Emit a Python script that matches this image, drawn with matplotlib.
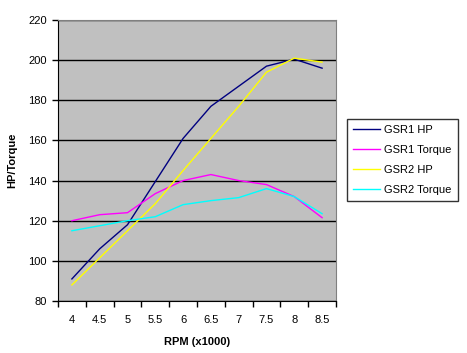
import numpy as np
import matplotlib
matplotlib.use("Agg")
import matplotlib.pyplot as plt

rpm_labels = ["4", "4.5", "5", "5.5", "6", "6.5", "7", "7.5", "8", "8.5"]
gsr1_hp = [91, 106, 118, 139.5, 161, 177, 187, 197, 200.5, 196]
gsr1_torque = [120, 123, 124, 133.5, 140, 143, 140, 138, 132, 121.5]
gsr2_hp = [88, 101.5, 115, 128.5, 145, 161, 177, 194, 201, 199]
gsr2_torque = [115, 117.5, 120, 122, 128, 130, 131.5, 136, 132, 123.5]

plt.rcParams["font.family"] = ["Liberation Sans", "DejaVu Sans"]

fig = plt.figure(figsize=(4.67, 3.53), dpi=100)
ax = fig.add_axes([58 / 467, 1 - 301 / 353, (336 - 58) / 467, (301 - 20) / 353])
ax.set_facecolor("#c0c0c0")

x = np.arange(len(rpm_labels))
ax.plot(x, gsr1_hp, color="#000080", lw=1, label="GSR1 HP")
ax.plot(x, gsr1_torque, color="#ff00ff", lw=1, label="GSR1 Torque")
ax.plot(x, gsr2_hp, color="#ffff00", lw=1, label="GSR2 HP")
ax.plot(x, gsr2_torque, color="#00ffff", lw=1, label="GSR2 Torque")

ax.set_xlim(-0.5, len(rpm_labels) - 0.5)
ax.set_ylim(80, 220)
ax.set_yticks(range(80, 221, 20))
ax.yaxis.grid(True, color="black", lw=1)
ax.set_axisbelow(True)

# category axis: ticks between categories, labels centred
ax.set_xticks(np.arange(-0.5, len(rpm_labels), 1))
ax.set_xticklabels([])
ax.set_xticks(x, minor=True)
ax.set_xticklabels(rpm_labels, minor=True)
ax.tick_params(axis="x", which="major", length=4, width=1, direction="out")
ax.tick_params(axis="x", which="minor", length=0, pad=10)
ax.tick_params(axis="y", length=4, width=1, pad=4)
ax.tick_params(which="both", labelsize=8)

for side in ["top", "right"]:
    ax.spines[side].set_color("#808080")
for side in ["left", "bottom"]:
    ax.spines[side].set_color("black")

ax.set_xlabel("RPM (x1000)", fontsize=8, fontweight="bold", labelpad=9)
ax.set_ylabel("HP/Torque", fontsize=8, fontweight="bold", labelpad=8)

leg = fig.legend(loc="upper left", bbox_to_anchor=(347 / 467, 1 - 119 / 353),
                 fontsize=8, frameon=True, fancybox=False, borderpad=0.55,
                 handlelength=2.4, handletextpad=0.4, labelspacing=0.9,
                 borderaxespad=0)
leg.get_frame().set_edgecolor("black")
leg.get_frame().set_linewidth(1)

fig.savefig("out.png", dpi=100)
